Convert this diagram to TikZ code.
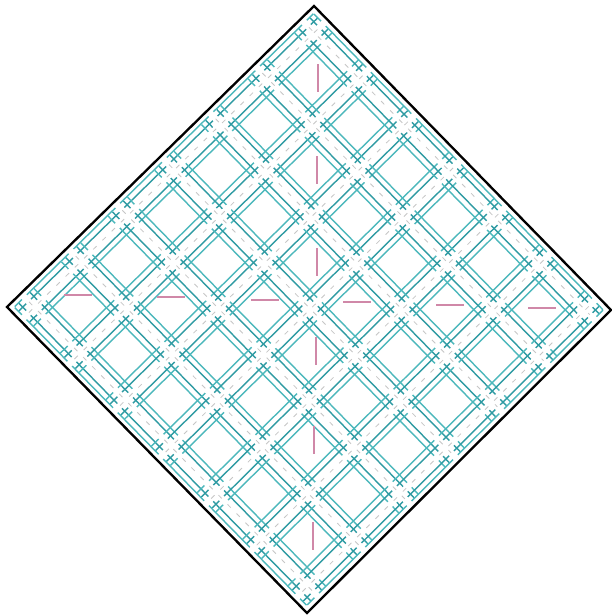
\documentclass[tikz,border=0pt]{standalone}
\usepackage{xcolor}
\definecolor{plaidteal}{HTML}{4CB8BC}
\definecolor{plaiddark}{HTML}{2F9BA3}
\definecolor{plaidpink}{HTML}{D088A8}
\usetikzlibrary{calc}

\begin{document}
\begin{tikzpicture}[
  x=0.03cm, y=-0.03cm,
  thread/.style={plaidteal, line width=1.2pt, shorten <=5pt, shorten >=5pt},
  darkthread/.style={thread, plaiddark},
  gap/.style={white, line width=5.5pt},
  stitch/.style={gray!45, line width=0.7pt, dash pattern=on 4pt off 7pt, shorten <=10pt, shorten >=10pt},
  tick/.style={plaidpink, line width=0.9pt},
  frame/.style={black, line width=2pt, line join=miter},
]
\useasboundingbox (0,0) rectangle (611,615);
\fill[white] (0,0) rectangle (611,615);
% ---------------- corners of the diamond
\coordinate (L) at (7,307);
\coordinate (T) at (314,6);
\coordinate (R) at (611,310);
\coordinate (B) at (307,613);
% ---------------- teal threads, four per stripe, both directions
\foreach \t in {0.045,0.197,0.349,0.501,0.653,0.805,0.957} {
  \foreach \d/\sty in {-0.033/thread,-0.019/darkthread,0.017/darkthread,0.030/thread} {
    \pgfmathsetmacro{\s}{\t+\d}
    \draw[\sty] ($(L)!\s!(B)$) -- ($(T)!\s!(R)$);
    \draw[\sty] ($(L)!\s!(T)$) -- ($(B)!\s!(R)$);
  }
}
% ---------------- white gaps through the middle of each stripe
\foreach \t in {0.045,0.197,0.349,0.501,0.653,0.805,0.957} {
  \draw[gap] ($(L)!\t!(B)$) -- ($(T)!\t!(R)$);
  \draw[gap] ($(L)!\t!(T)$) -- ($(B)!\t!(R)$);
}
\foreach \t in {0.045,0.197,0.349,0.501,0.653,0.805,0.957} {
  \draw[stitch] ($(L)!\t!(B)$) -- ($(T)!\t!(R)$);
  \draw[stitch] ($(L)!\t!(T)$) -- ($(B)!\t!(R)$);
}
% ---------------- pink marks on the two diagonals
\foreach \x/\y in {78/295,171/297,265/300,357/302,450/305,542/308}
  \draw[tick] (\x-14,\y) -- (\x+14,\y);
\foreach \x/\y in {318/78,317/170,317/262,316/351,314/440,313/536}
  \draw[tick] (\x,\y-14) -- (\x,\y+14);
% ---------------- outline
\draw[frame] (L) -- (T) -- (R) -- (B) -- cycle;
\end{tikzpicture}
\end{document}
